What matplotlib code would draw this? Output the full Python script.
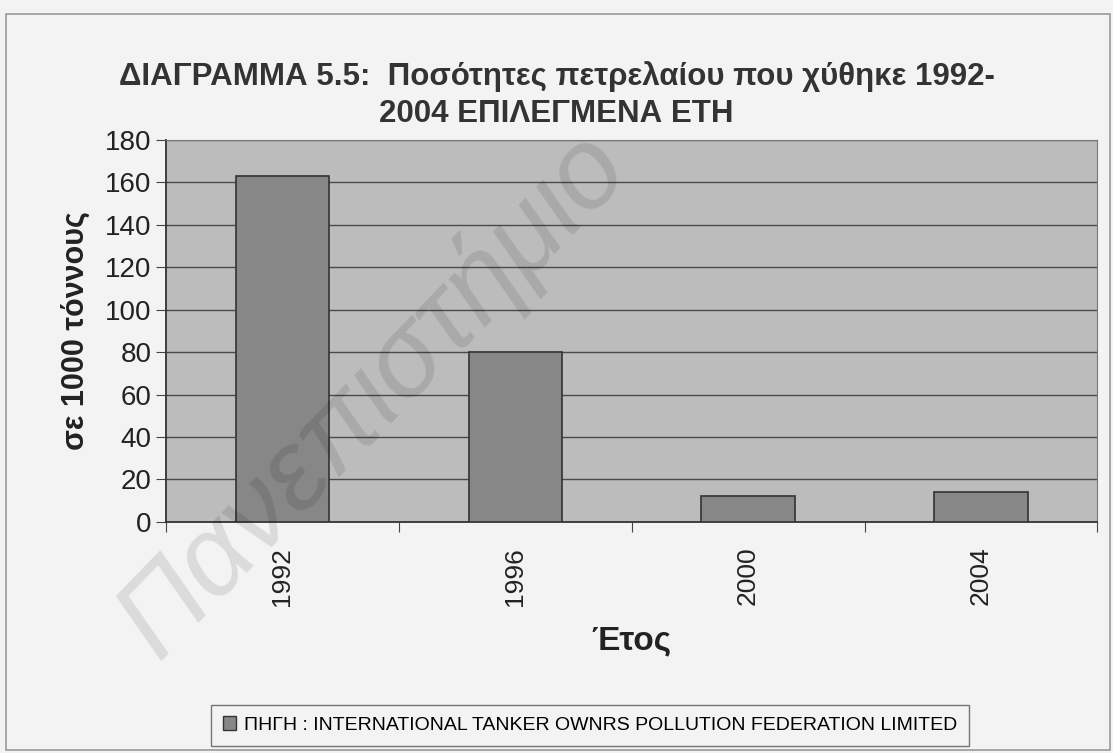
import matplotlib.pyplot as plt
import numpy as np
from matplotlib.patches import Patch, Rectangle

plt.rcParams["font.family"] = ["Liberation Sans", "DejaVu Sans"]

years = ["1992", "1996", "2000", "2004"]
spill_kt = [163, 80, 12, 14]
y_ticks = list(range(0, 181, 20))

title = "ΔΙΑΓΡΑΜΜΑ 5.5:  Ποσότητες πετρελαίου που χύθηκε 1992-\n2004 ΕΠΙΛΕΓΜΕΝΑ ΕΤΗ"
y_label = "σε 1000 τόννους"
x_label = "Έτος"
legend_label = "ΠΗΓΗ : INTERNATIONAL TANKER OWNRS POLLUTION FEDERATION LIMITED"

fig = plt.figure(figsize=(11.13, 7.53), dpi=100, facecolor="#f3f3f3")
ax = fig.add_axes([0.149, 0.307, 0.837, 0.507])
ax.set_facecolor("#bcbcbc")

# outer chart frame
fig.patches.append(Rectangle((0.005, 0.004), 0.992, 0.978, transform=fig.transFigure,
                             fill=False, edgecolor="#9a9a9a", linewidth=1.2))

x = np.arange(len(years))
ax.bar(x, spill_kt, width=0.4, color="#878787", edgecolor="#333333",
       linewidth=1.2, zorder=3)

ax.set_xlim(-0.5, len(years) - 0.5)
ax.set_ylim(0, 180)
ax.set_yticks(y_ticks)
ax.yaxis.grid(True, color="#4a4a4a", linewidth=1.0, zorder=1)
ax.set_axisbelow(True)
ax.set_xticks(np.arange(len(years) + 1) - 0.5)
ax.set_xticklabels([])
ax.set_xticks(x, minor=True)
ax.set_xticklabels(years, minor=True, rotation=90, fontsize=19, color="#222222")
ax.tick_params(axis="x", which="minor", length=0, pad=18)
ax.tick_params(axis="x", which="major", length=7, color="#444444")
ax.tick_params(axis="y", labelsize=20, length=7, color="#444444", labelcolor="#222222")

for side in ["top", "right"]:
    ax.spines[side].set_color("#777777")
for side in ["left", "bottom"]:
    ax.spines[side].set_color("#333333")
    ax.spines[side].set_linewidth(1.3)

ax.set_ylabel(y_label, fontsize=22, fontweight="bold", color="#222222", labelpad=10)
ax.set_xlabel(x_label, fontsize=24, fontweight="bold", color="#222222", labelpad=14)
fig.suptitle(title, fontsize=22.5, fontweight="bold", color="#333333", y=0.874,
             va="center", linespacing=1.3)

fig.legend(handles=[Patch(facecolor="#878787", edgecolor="#333333", label=legend_label)],
           loc="center", bbox_to_anchor=(0.53, 0.037),
           frameon=True, fancybox=False, edgecolor="#555555",
           facecolor="#f3f3f3", handlelength=0.7, handleheight=0.7,
           handletextpad=0.4, borderpad=0.6,
           prop={"family": ["Liberation Sans Narrow", "Liberation Sans"], "size": 14})

# faint diagonal scan watermark
fig.text(0.335, 0.475, "Πανεπιστήμιο", fontsize=82, rotation=46, style="italic",
         color="#000000", alpha=0.1, ha="center", va="center", zorder=10)

fig.savefig("out.png", dpi=100, facecolor=fig.get_facecolor())
